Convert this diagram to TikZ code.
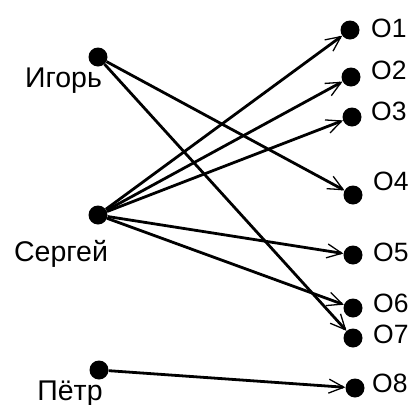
\documentclass[tikz,border=0pt]{standalone}
\usepackage{fontspec}
\setmainfont{Liberation Sans}
\usetikzlibrary{arrows.meta}
\begin{document}
\begin{tikzpicture}[x=1pt,y=-1pt,
  dot/.style={circle,fill=black,inner sep=0pt,minimum size=19pt},
  personlbl/.style={font=\fontsize{28.5}{28.5}\selectfont,inner sep=0pt,anchor=base},
  olbl/.style={font=\fontsize{26.5}{26.5}\selectfont,inner sep=0pt,anchor=base west},
  arr/.style={line width=2.8pt,-{Straight Barb[length=15pt,width=14pt,line width=1.3pt]}}]
\useasboundingbox (0,0) rectangle (416,405);
\node[dot] (igor) at (98,57) {};
\node[dot] (serg) at (98,215) {};
\node[dot] (petr) at (99,370) {};
\node[dot] (o1) at (350,30) {};
\node[dot] (o2) at (351,77) {};
\node[dot] (o3) at (352,117) {};
\node[dot] (o4) at (353,195) {};
\node[dot] (o5) at (353,255) {};
\node[dot] (o6) at (353,308) {};
\node[dot] (o7) at (353,338) {};
\node[dot] (o8) at (355,388) {};
\node[personlbl] (ligor) at (63.5,87) {Игорь};
\node[personlbl] (lserg) at (61,261) {Сергей};
\node[personlbl] (lpetr) at (70,400) {Пётр};
\node[olbl] (l1) at (371,37) {O1};
\node[olbl] (l2) at (371,79) {O2};
\node[olbl] (l3) at (371,120) {O3};
\node[olbl] (l4) at (373,190) {O4};
\node[olbl] (l5) at (373,261) {O5};
\node[olbl] (l6) at (373,312) {O6};
\node[olbl] (l7) at (373,343) {O7};
\node[olbl] (l8) at (372,392) {O8};
\draw[arr] (igor) -- (o4);
\draw[arr] (igor) -- (o7);
\draw[arr] (serg) -- (o1);
\draw[arr] (serg) -- (o2);
\draw[arr] (serg) -- (o3);
\draw[arr] (serg) -- (o5);
\draw[arr] (serg) -- (o6);
\draw[arr] (petr) -- (o8);
\end{tikzpicture}
\end{document}
